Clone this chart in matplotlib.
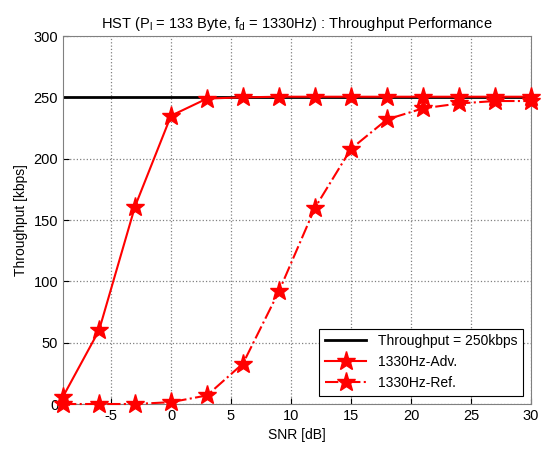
import matplotlib
matplotlib.use("Agg")
import matplotlib.pyplot as plt

plt.rcParams['font.family'] = ['Liberation Sans', 'DejaVu Sans']
plt.rcParams['mathtext.fontset'] = 'custom'
plt.rcParams['mathtext.rm'] = 'Liberation Sans'
plt.rcParams['mathtext.it'] = 'Liberation Sans'
plt.rcParams['axes.unicode_minus'] = False

snr = [-9, -6, -3, 0, 3, 6, 9, 12, 15, 18, 21, 24, 27, 30]
adv = [6, 60, 161, 235, 249, 250, 250.5, 250.5, 250.5, 250.5, 250.5, 250.5, 250.5, 250.5]
ref = [0, 0, 0, 1.5, 7, 33, 92, 160, 208, 232, 241, 245, 247, 247]
thr_x = [-9, 30]
thr_y = [250, 250]
xticks = [-5, 0, 5, 10, 15, 20, 25, 30]
yticks = [0, 50, 100, 150, 200, 250, 300]

fig = plt.figure(figsize=(5.46, 4.49), dpi=100)
ax = fig.add_axes([0.1154, 0.1002, 0.8571, 0.8196])

ax.plot(thr_x, thr_y, color='black', lw=2, label='Throughput = 250kbps')
ax.plot(snr, adv, color='red', lw=1.5, marker='*', ms=14, mfc='red', mec='red',
        label='1330Hz-Adv.', clip_on=False, zorder=3)
ax.plot(snr, ref, color='red', lw=1.5, ls='-.', marker='*', ms=14, mfc='red', mec='red',
        label='1330Hz-Ref.', clip_on=False, zorder=3)

ax.set_xlim(-9, 30)
ax.set_ylim(0, 300)
ax.set_xticks(xticks)
ax.set_yticks(yticks)
ax.grid(True, ls=':', color='#808080', lw=0.9)
ax.tick_params(direction='in', labelsize=10.5, length=4)
for s in ax.spines.values():
    s.set_color('#808080')
ax.set_xlabel('SNR [dB]', fontsize=10)
ax.set_ylabel('Throughput [kbps]', fontsize=10)
ax.set_title('HST (P$_\\mathrm{l}$ = 133 Byte, f$_\\mathrm{d}$ = 1330Hz) : Throughput Performance',
             fontsize=10.5)

leg = ax.legend(loc='lower right', fontsize=10, fancybox=False, framealpha=1,
                edgecolor='black', handlelength=3.0, borderaxespad=0.6)
leg.get_frame().set_linewidth(0.8)
leg.set_zorder(5)

fig.savefig('out.png', dpi=100)
